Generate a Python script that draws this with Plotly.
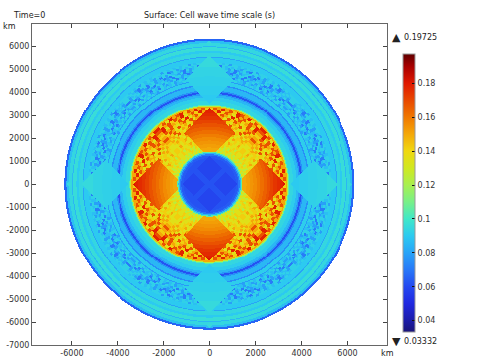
import numpy as np
import plotly.graph_objects as go

# axis ticks
x_ticks = [-6000, -4000, -2000, 0, 2000, 4000, 6000]
y_ticks = [-7000, -6000, -5000, -4000, -3000, -2000, -1000, 0, 1000, 2000, 3000, 4000, 5000, 6000]
cb_ticks = [0.04, 0.06, 0.08, 0.1, 0.12, 0.14, 0.16, 0.18]
cb_text = ["0.04", "0.06", "0.08", "0.1", "0.12", "0.14", "0.16", "0.18"]
z_min = 0.03332
z_max = 0.19725

# rainbow table
color_vals = [0.03332, 0.04, 0.05, 0.06, 0.07, 0.08, 0.09, 0.10, 0.11, 0.12, 0.13, 0.14,
              0.15, 0.16, 0.17, 0.18, 0.19, 0.19725]
color_hex = ["#1a1478", "#1c1ca8", "#2028e0", "#2448f0", "#2878f8", "#28a4f8", "#2ccaf0", "#40e8c8",
             "#78f088", "#a8f050", "#d0e820", "#f0d810", "#f4a808", "#f07800", "#e84800", "#e01800",
             "#a80000", "#600000"]

# radial profile, km (outer edge of each band) and value in seconds
band_edges = [1150, 1250, 1310, 1370, 1420, 3340, 3400, 3440, 3480, 3650, 3800, 3900, 3960, 4040,
              4100, 4300, 4360, 4520, 4560, 5300, 5500, 5540, 5700, 5800, 5950, 5990, 6130, 6230, 6320]
band_vals = [0.062, 0.064, 0.070, 0.085, 0.105, 0.145, 0.150, 0.125, 0.105, 0.094, 0.091, 0.085,
             0.077, 0.062, 0.075, 0.085, 0.075, 0.091, 0.078, 0.086, 0.090, 0.080, 0.094, 0.090, 0.096, 0.085,
             0.094, 0.087, 0.066]

# speckle of the inner shell: rows go outwards, columns from the axis to the diagonal
inner_start = 1420
inner_step = 120
inner_col_deg = 3
inner_vals = [0.110, 0.125, 0.135, 0.142, 0.150, 0.168, 0.178]
inner_rows = [
    "211212121212121",
    "322131212321212",
    "231322312132232",
    "322412323223132",
    "243213224322323",
    "322342132232423",
    "423324232432322",
    "342152324233432",
    "324332425324243",
    "432523342352434",
    "352342534235345",
    "425353243524534",
    "534425354235453",
    "453542635345264",
    "546354264535465",
    "354645365462536",
]

# speckle of the outer shell
outer_start = 4560
outer_step = 93
outer_col_deg = 1.5
outer_vals = [0.071, 0.079, 0.087, 0.092]
outer_rows = [
    "323233313322132323312323233132",
    "313213230232132123023132313231",
    "203231123120312313123022130312",
    "312130102133021232301213321023",
    "123203120312301022133012132310",
    "320132130123231302132031023213",
    "231032323213103323123233012323",
    "323323133232323133323231323233",
]

# orange lobes of the inner shell: value by radius
lobe_centre = 2250
lobe_half = 1100
lobe_edges = [1600, 1750, 1900, 2050, 2200, 2350, 2500, 2650, 2800, 2950, 3100, 3220, 3340]
lobe_vals = [0.150, 0.152, 0.154, 0.156, 0.159, 0.162, 0.165, 0.168, 0.171, 0.174, 0.176, 0.178, 0.181]

# diamonds of the outer shell: value by radius
dia_centre = 4550
dia_half = 1050
dia_edges = [3900, 4300, 4700, 5100, 5600]
dia_vals = [0.090, 0.091, 0.092, 0.093, 0.095]

# core lobes
core_centre = 700
core_half = 530
core_val = 0.059
cap_centre = 6110
cap_half = 130
cap_val = 0.095

# field on a grid of about one pixel
gx = np.arange(-6400, 6401, 43.0)
gy = np.arange(-6400, 6401, 43.0)
xx, yy = np.meshgrid(gx, gy)
rr = np.hypot(xx, yy)
aa = np.maximum(np.abs(xx), np.abs(yy))
bb = np.minimum(np.abs(xx), np.abs(yy))
deg = np.degrees(np.arctan2(bb, aa))

idx = np.clip(np.digitize(rr, band_edges), 0, len(band_vals) - 1)
zz = np.array(band_vals)[idx]

inner_tab = np.array([[inner_vals[int(c)] for c in row] for row in inner_rows])
m = (rr >= inner_start) & (rr < band_edges[5])
ri = np.clip(((rr[m] - inner_start) / inner_step).astype(int), 0, inner_tab.shape[0] - 1)
ci = np.clip((deg[m] / inner_col_deg).astype(int), 0, inner_tab.shape[1] - 1)
zz[m] = inner_tab[ri, ci]

outer_tab = np.array([[outer_vals[int(c)] for c in row] for row in outer_rows])
m = (rr >= outer_start) & (rr < band_edges[19])
ri = np.clip(((rr[m] - outer_start) / outer_step).astype(int), 0, outer_tab.shape[0] - 1)
ci = np.clip((deg[m] / outer_col_deg).astype(int), 0, outer_tab.shape[1] - 1)
zz[m] = outer_tab[ri, ci]

m = (np.abs(aa - lobe_centre) + bb < lobe_half) & (rr >= inner_start) & (rr < band_edges[5])
zz[m] = np.array(lobe_vals)[np.clip(np.digitize(rr[m], lobe_edges), 0, len(lobe_vals) - 1)]

m = (np.abs(aa - dia_centre) + bb < dia_half) & (rr < 5600)
zz[m] = np.array(dia_vals)[np.clip(np.digitize(rr[m], dia_edges), 0, len(dia_vals) - 1)]

zz[np.abs(aa - core_centre) + bb < core_half] = core_val
zz[np.abs(aa - cap_centre) + bb < cap_half] = cap_val
zz[rr >= band_edges[-1]] = np.nan

scale = [[(v - z_min) / (z_max - z_min), c] for v, c in zip(color_vals, color_hex)]

fig = go.Figure()
fig.add_trace(go.Heatmap(
    x=gx, y=gy, z=zz, zmin=z_min, zmax=z_max, colorscale=scale, hoverinfo="skip",
    colorbar=dict(
        lenmode="pixels", len=278, thicknessmode="pixels", thickness=12,
        x=(404 - 32) / 355.5, xanchor="left", xpad=0,
        y=(345 - 193) / 321, yanchor="middle", ypad=0,
        outlinecolor="#999999", outlinewidth=1,
        tickmode="array", tickvals=cb_ticks, ticktext=cb_text,
        ticks="inside", ticklen=3, tickcolor="#111111", tickwidth=1,
        tickfont=dict(size=8, color="#333333"),
    ),
))

font = "DejaVu Sans"
tick_font = dict(family=font, size=8, color="#333333")
fig.update_xaxes(range=[-7740, 7720], tickmode="array", tickvals=x_ticks, automargin=False,
                 ticktext=[str(v) for v in x_ticks], ticks="inside", ticklen=4, tickcolor="#444444",
                 showline=True, linecolor="#666666", mirror="ticks", showgrid=False, zeroline=False,
                 tickfont=tick_font)
fig.update_yaxes(range=[-7000, 6980], tickmode="array", tickvals=y_ticks, automargin=False,
                 ticktext=[str(v) for v in y_ticks], ticks="inside", ticklen=4, tickcolor="#444444",
                 showline=True, linecolor="#666666", mirror="ticks", showgrid=False, zeroline=False,
                 tickfont=tick_font)


def note(text, px, py, anchor="left", size=8):
    fig.add_annotation(text=text, x=(px - 32) / 355.5, y=(345 - py) / 321, xref="paper", yref="paper",
                       xanchor=anchor, yanchor="middle", showarrow=False,
                       font=dict(family=font, size=size, color="#222222"), borderpad=0)


note("Time=0", 12, 15)
note("Surface: Cell wave time scale (s)", 210, 15, "center")
note("km", 2, 26)
note("km", 380, 354)
note("▲", 392, 37, size=11)
note("0.19725", 404, 37)
note("▼", 392, 341, size=11)
note("0.03332", 404, 341)

fig.update_layout(width=480, height=360, margin=dict(l=32, r=92.5, t=24, b=15),
                  paper_bgcolor="white", plot_bgcolor="white", font=dict(family=font, size=8))
# the page has a default body margin that would push the plot 8px off
fig.write_html("out.html", config={"displayModeBar": False},
               post_script="document.body.style.margin='0';")
